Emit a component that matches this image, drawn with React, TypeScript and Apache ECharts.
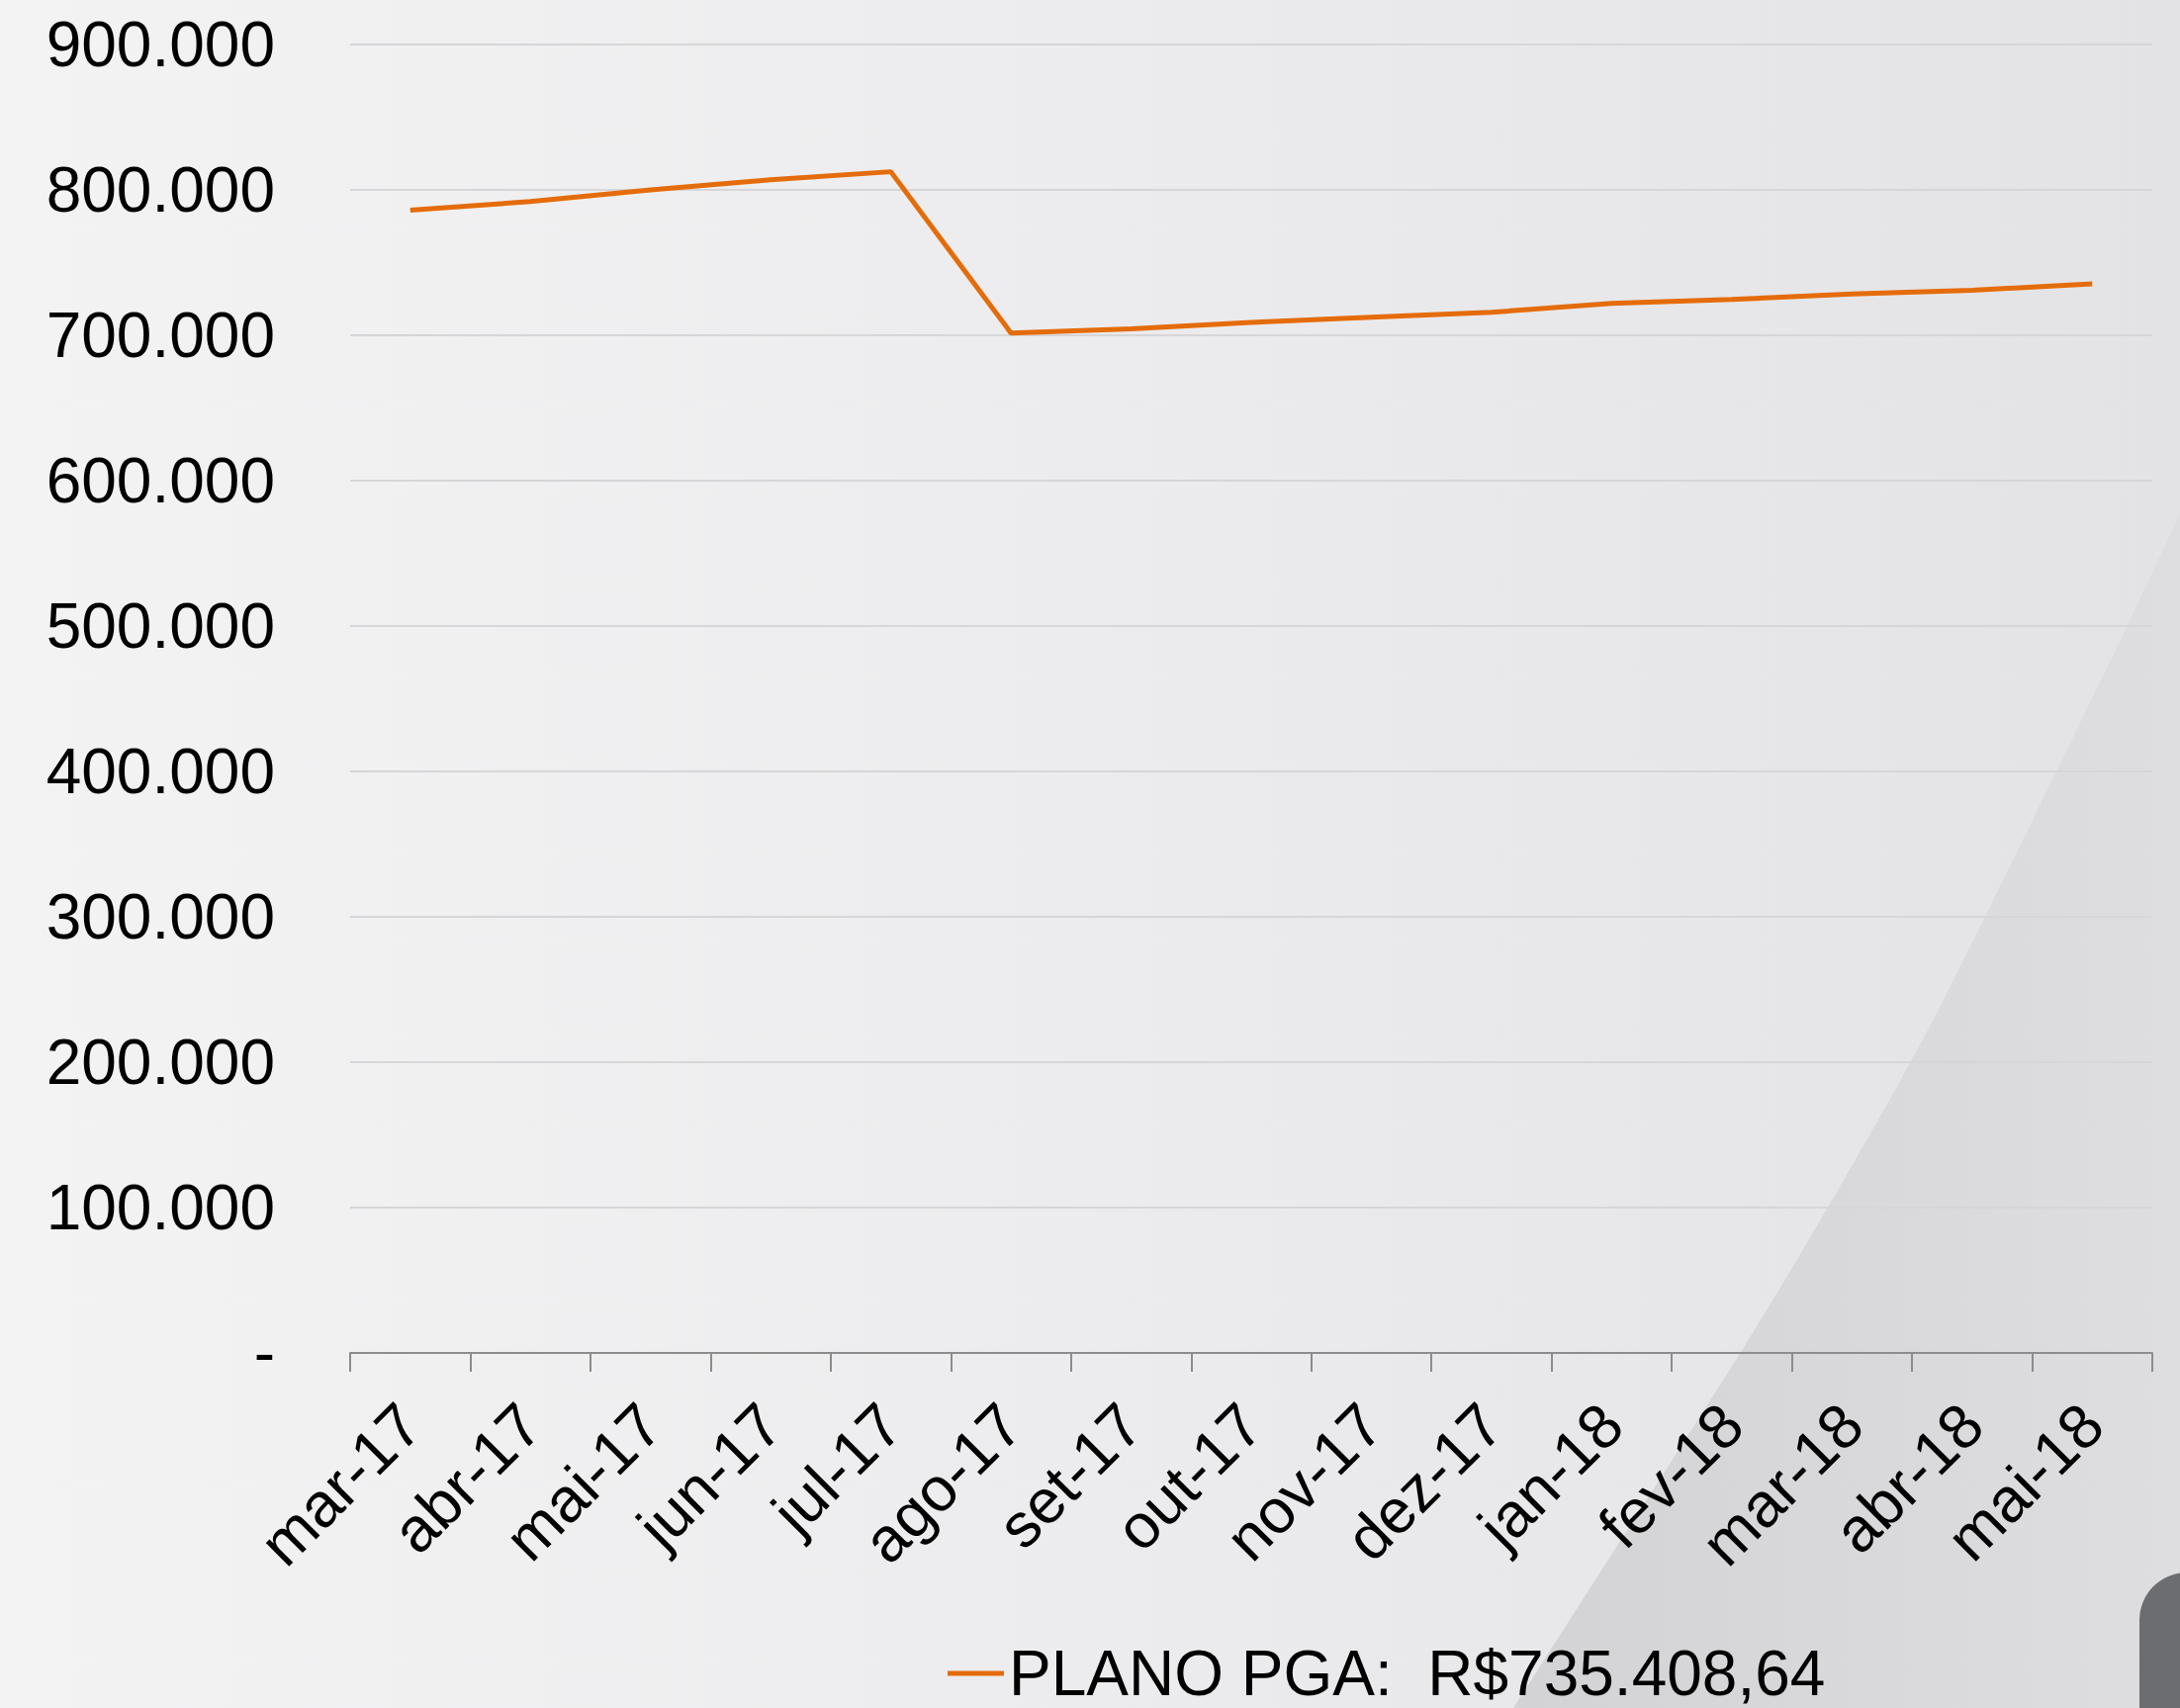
import React, { useEffect, useRef } from "react";
import * as echarts from "echarts";

const categories = [
  "mar-17", "abr-17", "mai-17", "jun-17", "jul-17", "ago-17", "set-17", "out-17",
  "nov-17", "dez-17", "jan-18", "fev-18", "mar-18", "abr-18", "mai-18",
];
const planoValues = [
  786000, 792000, 800000, 807000, 812500, 701600, 704500, 708800,
  712400, 715800, 722000, 724700, 728400, 731000, 735408.64,
];
const seriesName = "PLANO PGA:  R$735.408,64";
const yMin = 0;
const yMax = 900000;
const yInterval = 100000;

const FONT = "'Liberation Sans', Arial, sans-serif";

function fmtY(v: number): string {
  if (v === 0) return "-";
  return Math.round(v)
    .toString()
    .replace(/\B(?=(\d{3})+(?!\d))/g, ".");
}

export default function App() {
  const ref = useRef<HTMLDivElement>(null);
  useEffect(() => {
    if (!ref.current) return;
    const chart = echarts.init(ref.current, undefined, { renderer: "svg" });
    const H = 1727;
    chart.setOption({
      animation: false,
      backgroundColor: {
        type: "linear",
        x: 0,
        y: 0,
        x2: 1,
        y2: 0,
        colorStops: [
          { offset: 0, color: "#f3f3f4" },
          { offset: 0.5, color: "#ececee" },
          { offset: 1, color: "#e3e3e5" },
        ],
      },
      graphic: [
        {
          type: "polygon",
          z: -10,
          silent: true,
          shape: {
            points: [
              [2204, 520],
              [2140, 655],
              [2079, 780],
              [2007, 927],
              [1958, 1025],
              [1910, 1113],
              [1860, 1200],
              [1806, 1292],
              [1757, 1372],
              [1692, 1474],
              [1615, 1594],
              [1530, 1727],
              [2204, 1727],
            ],
          },
          style: {
            fill: {
              type: "linear",
              x: 0,
              y: 0,
              x2: 1,
              y2: 0,
              colorStops: [
                { offset: 0, color: "#d3d3d5" },
                { offset: 1, color: "#dedee0" },
              ],
            },
          },
        },
        {
          type: "rect",
          z: -5,
          silent: true,
          shape: { x: 2163, y: 1590, width: 120, height: 220, r: [48, 0, 0, 0] },
          style: { fill: "#6c6d70" },
        },
      ],
      grid: { left: 354, right: 28, top: 45, bottom: H - 1368, containLabel: false },
      legend: {
        show: true,
        left: 953,
        top: 1655,
        icon: "rect",
        itemWidth: 57,
        itemHeight: 5,
        textStyle: { fontFamily: FONT, fontSize: 64, color: "#000", lineHeight: 64 },
        data: [seriesName],
      },
      xAxis: {
        type: "category",
        data: categories,
        boundaryGap: true,
        axisLine: { show: true, lineStyle: { color: "#8c8c8c", width: 2 } },
        axisTick: { show: true, length: 19, lineStyle: { color: "#8c8c8c", width: 2 } },
        axisLabel: {
          interval: 0,
          rotate: 45,
          margin: 62,
          fontFamily: FONT,
          fontSize: 63,
          color: "#000",
        },
        splitLine: { show: false },
      },
      yAxis: {
        type: "value",
        min: yMin,
        max: yMax,
        interval: yInterval,
        axisLine: { show: false },
        axisTick: { show: false },
        axisLabel: {
          margin: 76,
          fontFamily: FONT,
          fontSize: 64,
          color: "#000",
          formatter: (v: number) => fmtY(v),
        },
        splitLine: { show: true, lineStyle: { color: "#d6d6d8", width: 2 } },
      },
      series: [
        {
          name: seriesName,
          type: "line",
          data: planoValues,
          showSymbol: false,
          symbol: "none",
          smooth: false,
          lineStyle: { color: "#E46C0A", width: 5 },
          itemStyle: { color: "#E46C0A" },
        },
      ],
    });
    return () => chart.dispose();
  }, []);
  return (
    <div
      ref={ref}
      style={{ position: "fixed", left: 0, top: 0, width: 2204, height: 1727 }}
    />
  );
}
